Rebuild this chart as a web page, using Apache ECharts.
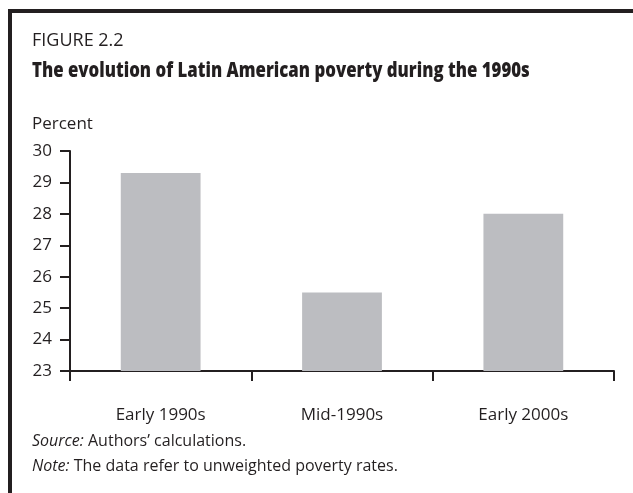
<!DOCTYPE html>
<html>
<head>
<meta charset="utf-8">
<style>
  html, body { margin: 0; padding: 0; background: #ffffff; }
  #chart { width: 633px; height: 493px; }
</style>
<script src="https://cdn.jsdelivr.net/npm/echarts@6/dist/echarts.min.js"></script>
</head>
<body>
<div id="chart"></div>
<script>
// Poverty rate (percent) by period
const categories = ['Early 1990s', 'Mid-1990s', 'Early 2000s'];
const povertyRate = [29.3, 25.5, 28.0];
const yTicks = [23, 24, 25, 26, 27, 28, 29, 30];

const ink = '#231f20';
const bodyFont = '"Open Sans", "Noto Sans", sans-serif';

const chart = echarts.init(document.getElementById('chart'), null, { renderer: 'canvas' });

// plain text placed by the top of its line box
function label(x, y, text, font, extra) {
  return Object.assign({
    type: 'text', x: x, y: y, silent: true,
    style: { text: text, font: font, fill: ink, verticalAlign: 'top', align: 'left' }
  }, extra || {});
}

function note(x, y, lead, rest) {
  return {
    type: 'text', x: x, y: y, silent: true,
    style: {
      text: '{i|' + lead + '} ' + rest,
      rich: { i: { fontFamily: bodyFont, fontSize: 16, fontStyle: 'italic', fill: ink } },
      font: '16px ' + bodyFont, fill: ink, verticalAlign: 'top', align: 'left'
    }
  };
}

chart.setOption({
  backgroundColor: '#ffffff',
  animation: false,
  grid: { left: 70, right: 19, top: 151, bottom: 122, containLabel: false },
  xAxis: {
    type: 'category',
    data: categories,
    boundaryGap: true,
    axisLine: { show: true, lineStyle: { color: ink, width: 2 } },
    axisTick: { show: true, inside: false, length: 10, alignWithLabel: false, lineStyle: { color: ink, width: 2 } },
    axisLabel: { margin: 36, fontFamily: bodyFont, fontSize: 17, color: ink },
    splitLine: { show: false }
  },
  yAxis: {
    type: 'value',
    min: yTicks[0],
    max: yTicks[yTicks.length - 1],
    interval: 1,
    axisLine: { show: true, lineStyle: { color: ink, width: 2 } },
    axisTick: { show: true, inside: false, length: 10, lineStyle: { color: ink, width: 2 } },
    axisLabel: { margin: 18, fontFamily: bodyFont, fontSize: 17, color: ink },
    splitLine: { show: false }
  },
  series: [{
    type: 'bar',
    data: povertyRate,
    barWidth: '44%',
    itemStyle: { color: '#bcbdc1' },
    silent: true
  }],
  graphic: [
    // frame: heavy rule along the top and down the left side
    { type: 'rect', shape: { x: 8, y: 9, width: 625, height: 4 }, style: { fill: ink }, silent: true },
    { type: 'rect', shape: { x: 8, y: 9, width: 4, height: 484 }, style: { fill: ink }, silent: true },

    label(32, 32, 'FIGURE 2.2', '18px ' + bodyFont),
    // condensed heavy headline
    label(32, 61, 'The evolution of Latin American poverty during the 1990s',
      '800 21px ' + bodyFont, { scaleX: 0.8 }),
    label(32, 116, 'Percent', '17px ' + bodyFont),

    note(32, 433, 'Source:', 'Authors’ calculations.'),
    note(32, 458, 'Note:', 'The data refer to unweighted poverty rates.')
  ]
});
</script>
</body>
</html>
